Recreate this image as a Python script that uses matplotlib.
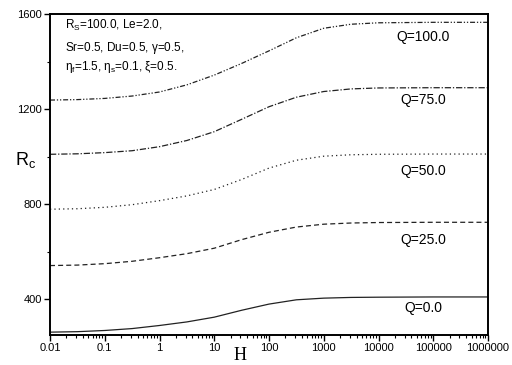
import matplotlib.pyplot as plt
import numpy as np

# H values (log axis) and critical Rayleigh number Rc for each Q
H = [0.01, 0.0316, 0.1, 0.316, 1, 3.16, 10, 31.6, 100, 316,
     1000, 3162, 10000, 100000, 1000000]
rc_q0 = [262, 264, 269, 277, 290, 305, 325, 354, 380, 398,
         405, 408, 409, 410, 410]
rc_q25 = [542, 544, 550, 560, 575, 592, 615, 651, 682, 704,
          716, 721, 723, 724, 724]
rc_q50 = [779, 781, 787, 798, 815, 835, 862, 904, 952, 985,
          1002, 1008, 1010, 1011, 1011]
rc_q75 = [1010, 1012, 1017, 1025, 1042, 1068, 1105, 1157, 1210, 1250,
          1274, 1285, 1289, 1290, 1290]
rc_q100 = [1238, 1240, 1245, 1255, 1272, 1302, 1343, 1392, 1445, 1500,
           1540, 1557, 1563, 1565, 1565]

q_labels = ['Q=0.0', 'Q=25.0', 'Q=50.0', 'Q=75.0', 'Q=100.0']
label_y = [362, 650, 940, 1238, 1503]

plt.rcParams['font.family'] = ['Liberation Sans', 'DejaVu Sans']
plt.rcParams['mathtext.fontset'] = 'custom'
plt.rcParams['mathtext.rm'] = 'Liberation Sans'
plt.rcParams['mathtext.it'] = 'Liberation Sans'

fig = plt.figure(figsize=(5.12, 3.65), dpi=100)
ax = fig.add_axes([50 / 512, 30 / 365, 438 / 512, 321 / 365])

ax.plot(H, rc_q0, color='#222222', lw=0.9, ls='-')
ax.plot(H, rc_q25, color='#222222', lw=0.9, ls=(0, (4, 2.5)))
ax.plot(H, rc_q50, color='#222222', lw=0.9, ls=(0, (1, 2.5)))
ax.plot(H, rc_q75, color='#222222', lw=0.9, ls=(0, (5, 1.5, 1, 1.5)))
ax.plot(H, rc_q100, color='#222222', lw=0.9, ls=(0, (4, 1.5, 1, 1.5, 1, 1.5)))

for lab, yy in zip(q_labels, label_y):
    ax.text(6.5e4, yy, lab, fontsize=10, ha='center', va='center')

ax.text(0.035, 0.953, r'R$_\mathrm{S}$=100.0, Le=2.0,', transform=ax.transAxes,
        fontsize=8.5, va='baseline')
ax.text(0.035, 0.884, r'Sr=0.5, Du=0.5, $\gamma$=0.5,', transform=ax.transAxes,
        fontsize=8.5, va='baseline')
ax.text(0.035, 0.826, r'$\eta_\mathrm{f}$=1.5, $\eta_\mathrm{s}$=0.1, $\xi$=0.5.',
        transform=ax.transAxes, fontsize=8.5, va='baseline')

ax.set_xscale('log')
ax.set_xlim(0.01, 1000000)
ax.set_ylim(250, 1600)
ax.set_xticks([0.01, 0.1, 1, 10, 100, 1000, 10000, 100000, 1000000])
ax.set_xticklabels(['0.01', '0.1', '1', '10', '100', '1000', '10000', '100000', '1000000'])
ax.set_yticks([400, 800, 1200, 1600])
ax.set_yticks([600, 1000, 1400], minor=True)
ax.tick_params(axis='both', which='major', labelsize=8, length=4, width=1, pad=2)
ax.tick_params(axis='both', which='minor', length=2.5, width=0.8)
for s in ax.spines.values():
    s.set_linewidth(1.4)

ax.set_xlabel('H', family='Liberation Serif', fontsize=13)
ax.xaxis.set_label_coords((240 - 50) / 438, -(355 - 335) / 321)
ax.xaxis.label.set_va('center')
ax.text(-0.055, 0.545, r'R$_\mathrm{c}$', transform=ax.transAxes, fontsize=13,
        ha='center', va='center')

fig.savefig('out.png', dpi=100)
